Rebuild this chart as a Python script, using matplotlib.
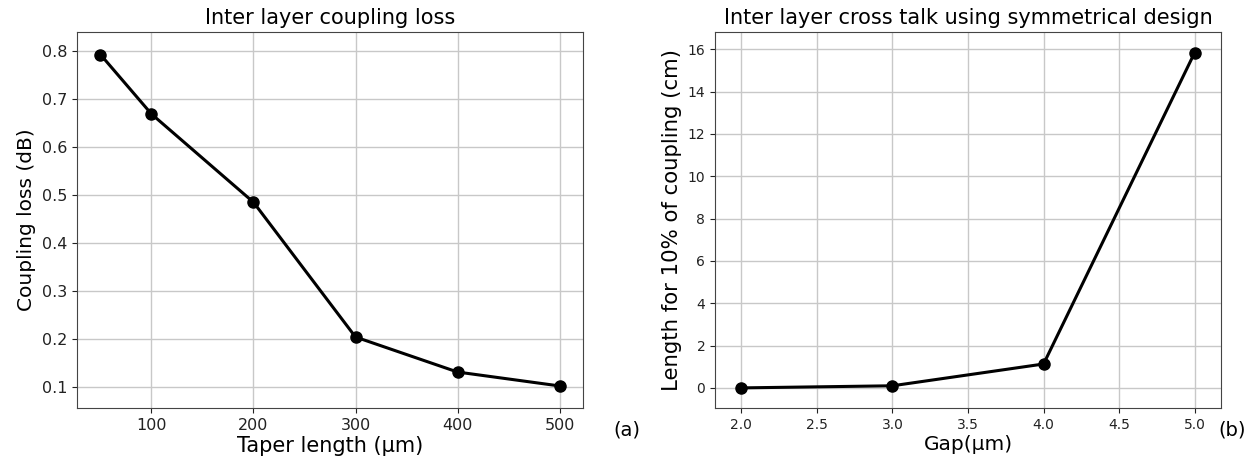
import matplotlib
matplotlib.use("Agg")
import matplotlib.pyplot as plt

# Panel (a): coupling loss vs taper length
taper_length = [50, 100, 200, 300, 400, 500]
coupling_loss = [0.793, 0.669, 0.485, 0.204, 0.131, 0.102]

# Panel (b): cross talk length vs gap
gap = [2.0, 3.0, 4.0, 5.0]
cross_len = [0.0, 0.1, 1.13, 15.85]

W, H = 1252, 463


def main():
    fig = plt.figure(figsize=(W / 100, H / 100), dpi=100)

    # left panel
    ax1 = fig.add_axes([77 / W, 55 / H, 506 / W, 376 / H])
    ax1.plot(taper_length, coupling_loss, color="black", lw=2.2, marker="o", ms=8)
    ax1.set_xlim(27, 523)
    ax1.set_ylim(0.056, 0.84)
    ax1.set_xticks([100, 200, 300, 400, 500])
    ax1.grid(True, color="#c8c8c8", lw=1)
    ax1.tick_params(labelsize=11.5, colors="#222222")
    ax1.set_title("Inter layer coupling loss", fontsize=15)
    ax1.set_xlabel("Taper length (μm)", fontsize=15, labelpad=2)
    ax1.set_ylabel("Coupling loss (dB)", fontsize=14.5)
    fig.text(627 / W, 1 - 430 / H, "(a)", fontsize=14, ha="center", va="center")

    # right panel
    ax2 = fig.add_axes([715 / W, 55 / H, 506 / W, 376 / H])
    ax2.plot(gap, cross_len, color="black", lw=2.2, marker="o", ms=8)
    ax2.set_xlim(1.826, 5.174)
    ax2.set_ylim(-0.95, 16.82)
    ax2.set_yticks(range(0, 17, 2))
    ax2.grid(True, color="#c8c8c8", lw=1)
    ax2.tick_params(labelsize=10, colors="#222222")
    ax2.set_title("Inter layer cross talk using symmetrical design", fontsize=15)
    ax2.set_xlabel("Gap(μm)", fontsize=14.5, labelpad=2)
    ax2.set_ylabel("Length for 10% of coupling (cm)", fontsize=15.3)
    fig.text(1232 / W, 1 - 430 / H, "(b)", fontsize=14, ha="center", va="center")

    for ax in (ax1, ax2):
        for sp in ax.spines.values():
            sp.set_color("#444444")

    fig.savefig("out.png", dpi=100)


if __name__ == "__main__":
    main()
